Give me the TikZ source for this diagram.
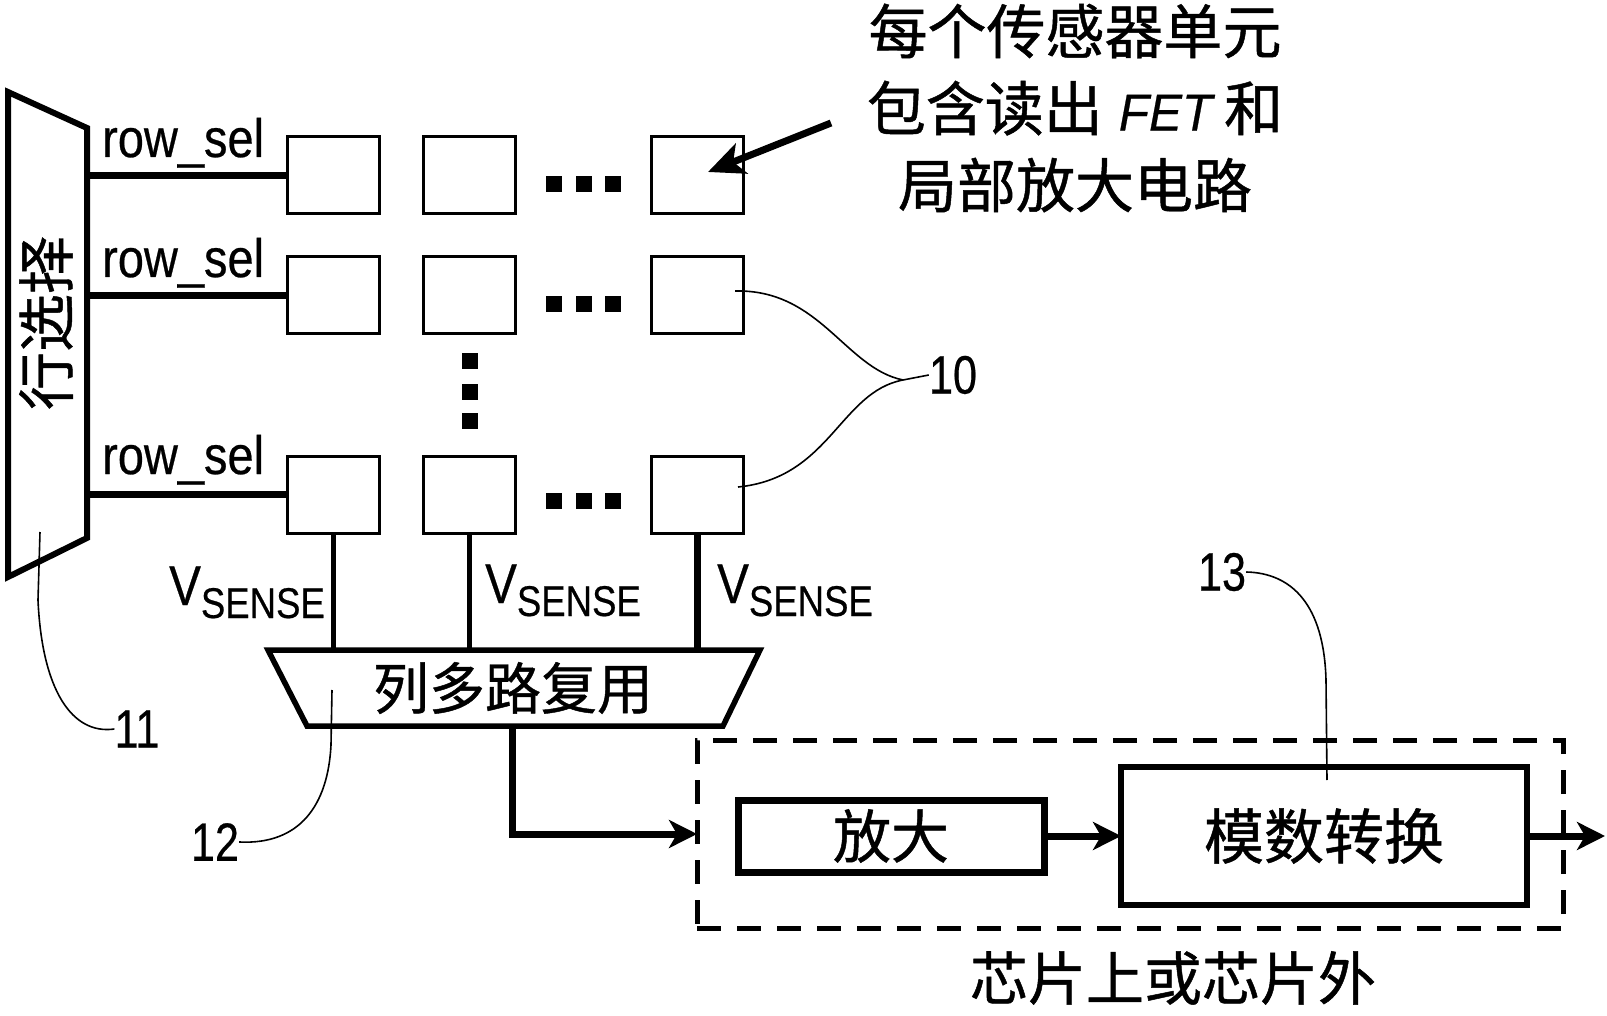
\documentclass[tikz,border=0pt]{standalone}
\usepackage{fontspec}
\usepackage{graphicx}
\setmainfont{Liberation Sans}[FakeBold=0.5]
\newfontfamily\cjk{Noto Sans CJK SC}[FakeBold=0.8]
\usetikzlibrary{arrows.meta}
\newcommand{\lat}[3]{\scalebox{#1}[1]{\fontsize{#2}{#2}\selectfont #3}}
\newcommand{\vsense}{\scalebox{0.85}[1]{\fontsize{56}{56}\selectfont V\raisebox{-13pt}{\fontsize{43}{43}\selectfont SENSE}}}
\begin{document}
\begin{tikzpicture}[x=1pt,y=-1pt,
  cell/.style={draw, line width=3pt, minimum width=92pt, minimum height=77pt, inner sep=0pt, outer sep=0pt},
  dotsq/.style={fill=black, minimum width=16pt, minimum height=16pt, inner sep=0pt},
  bus/.style={line width=6.5pt},
  vline/.style={line width=5pt},
  lbl/.style={inner sep=0pt, anchor=base west},
  leader/.style={line width=1.6pt},
  arr/.style={line width=7pt, -{Stealth[length=28pt,width=28pt,inset=8pt]}},
  blk/.style={draw, inner sep=0pt, outer sep=0pt},
  cjt/.style={font=\cjk\fontsize{58}{58}\selectfont, inner sep=0pt}
]
\useasboundingbox (0,0) rectangle (1607,1016);

% row select trapezoid
\draw[line width=6pt, line join=miter] (8,92) -- (87,128) -- (87,538) -- (8,577) -- cycle;
\coordinate (rsR) at (87,0);
\node[cjt, rotate=90] (rslbl) at (46,323) {行选择};

% cells
\node[cell] (c11) at (333,175.5) {};
\node[cell] (c12) at (469,175.5) {};
\node[cell] (c13) at (697.5,175.5) {};
\node[cell] (c21) at (333,295.5) {};
\node[cell] (c22) at (469,295.5) {};
\node[cell] (c23) at (697.5,295.5) {};
\node[cell] (c31) at (333,494.5) {};
\node[cell] (c32) at (469,494.5) {};
\node[cell] (c33) at (697.5,494.5) {};

% row lines
\draw[bus] (c11.west -| rsR) -- (c11.west);
\draw[bus] (c21.west -| rsR) -- (c21.west);
\draw[bus] (c31.west -| rsR) -- (c31.west);
\node[lbl] (rl1) at (102,157) {\lat{0.87}{54}{row\_sel}};
\node[lbl] (rl2) at (102,277) {\lat{0.87}{54}{row\_sel}};
\node[lbl] (rl3) at (102,474) {\lat{0.87}{54}{row\_sel}};

% horizontal dots
\foreach \yy/\r in {184/1,304/2,501/3}{
  \node[dotsq] (hd\r a) at (554,\yy) {};
  \node[dotsq] (hd\r b) at (584,\yy) {};
  \node[dotsq] (hd\r c) at (613,\yy) {};
}
% vertical dots
\node[dotsq] (vd1) at (470,361) {};
\node[dotsq] (vd2) at (470,392) {};
\node[dotsq] (vd3) at (470,421) {};

% column mux
\draw[line width=5.5pt, line join=miter] (268,650) -- (760,650) -- (723,726) -- (307,726) -- cycle;
\coordinate (muxTop) at (0,650);
\coordinate (muxOut) at (512,726);
\node[cjt, font=\cjk\fontsize{56}{56}\selectfont] (muxlbl) at (513,688) {列多路复用};
\draw[vline] (c31.south) -- (c31.south |- muxTop);
\draw[vline] (c32.south) -- (c32.south |- muxTop);
\draw[vline, line width=7pt] (c33.south) -- (c33.south |- muxTop);
\node[lbl] (vs1) at (169,605) {\vsense};
\node[lbl] (vs2) at (485,603) {\vsense};
\node[lbl] (vs3) at (717,603) {\vsense};

% chip box
\node[blk, dashed, line width=5pt, dash pattern=on 24pt off 16pt, minimum width=866pt, minimum height=188pt] (chip) at (1130,834) {};
\node[blk, line width=7pt, minimum width=306pt, minimum height=72pt, cjt] (amp) at (891,836) {放大};
\node[blk, line width=6.5pt, minimum width=406pt, minimum height=138pt, cjt, font=\cjk\fontsize{60}{60}\selectfont] (adc) at (1324,836) {模数转换};
\coordinate (outEnd) at (1605,836);
\draw[arr, line join=miter] (muxOut) |- (chip.west);
\draw[arr] (amp.east) -- (adc.west);
\draw[arr] (adc.east) -- (outEnd);
\node[cjt] (chiplbl) at (1173,978) {芯片上或芯片外};

% annotation
\node[inner sep=0pt, align=center, font=\cjk\fontsize{59}{77}\selectfont] (annot) at (1075,108)
  {每个传感器单元\\包含读出\hspace{16pt}{\normalfont\itshape\lat{0.95}{52}{FET}}\hspace{12pt}和\\局部放大电路};
\coordinate (annS) at (831,123);
\coordinate (annT) at (708,172);
\draw[line width=7pt, -{Stealth[length=36pt,width=32pt,inset=9pt]}] (annS) -- (annT);

% reference numerals
\node[inner sep=0pt] (n10) at (953,375) {\lat{0.8}{54}{10}};
\node[inner sep=0pt] (n11) at (137,729) {\lat{0.8}{54}{11}};
\node[inner sep=0pt] (n12) at (215,842) {\lat{0.8}{54}{12}};
\node[inner sep=0pt] (n13) at (1222,572) {\lat{0.8}{54}{13}};
\coordinate (j10) at (903,380);
\draw[leader] (735,291) .. controls (820,289) and (845,368) .. (j10);
\draw[leader] (738,487) .. controls (830,478) and (840,392) .. (j10);
\draw[leader] (j10) -- (n10.west);
\draw[leader] (40,532) -- (38,600) .. controls (42,690) and (72,735) .. (n11.west);
\draw[leader] (332,690) -- (331,745) .. controls (328,805) and (300,845) .. (n12.east);
\draw[leader] (n13.east) .. controls (1292,573) and (1324,605) .. (1326,680) -- (1327,780);
\end{tikzpicture}
\end{document}
